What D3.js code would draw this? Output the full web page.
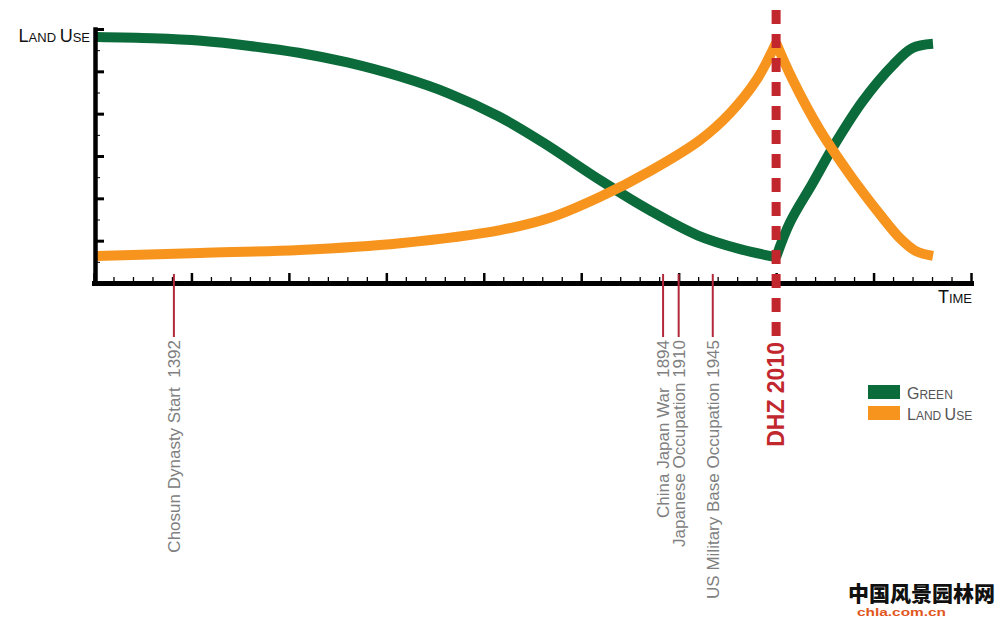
<!DOCTYPE html>
<html>
<head>
<meta charset="utf-8">
<script src="https://cdn.jsdelivr.net/npm/d3@7"></script>
<style>
  html, body { margin: 0; padding: 0; background: #fff; }
  svg { display: block; }
</style>
</head>
<body>
<svg id="chart" width="1000" height="617"></svg>
<script>
// Time axis (years) and tick marks
const timeDomain = [1310, 2210];
const majorYears = d3.range(1310, 2211, 100);
const minorYears = d3.range(1310, 2211, 20).filter(y => (y - 1310) % 100 !== 0);

// Relative level axis
const levelDomain = [0, 6];
const majorLevels = [1, 2, 3, 4, 5, 6];
const minorLevels = [0.5, 1.5, 2.5, 3.5, 4.5, 5.5];

// Series: [year, level]
const greenSeries = [
  [1313, 5.81], [1370, 5.78], [1420, 5.72], [1470, 5.60], [1520, 5.44],
  [1570, 5.21], [1625, 4.87], [1675, 4.47], [1725, 3.94], [1770, 3.33],
  [1830, 2.42], [1880, 1.72], [1930, 1.12], [1973, 0.80], [2010, 0.61],
  [2024, 1.42], [2047, 2.34], [2071, 3.31], [2099, 4.30], [2130, 5.15],
  [2150, 5.55], [2171, 5.65]
];
const landUseSeries = [
  [1313, 0.64], [1419, 0.71], [1521, 0.78], [1624, 0.94], [1727, 1.25],
  [1778, 1.54], [1829, 2.03], [1881, 2.65], [1932, 3.38], [1963, 4.02],
  [1990, 4.80], [2010, 5.67],
  [2027, 4.80], [2055, 3.61], [2086, 2.55], [2117, 1.61], [2137, 1.06],
  [2153, 0.76], [2171, 0.64]
];

// Historical events marked under the time axis
const eventYears = [1392, 1894, 1910, 1945];
const eventLabels = [
  "Chosun Dynasty Start  1392",
  "China Japan War  1894",
  "Japanese Occupation 1910",
  "US Military Base Occupation 1945"
];

const dhzYear = 2010;
const dhzLabel = "DHZ 2010";

const yAxisTitle = "Land Use";
const xAxisTitle = "Time";
const legendLabels = ["Green", "Land Use"];
const siteName = "中国风景园林网";
const siteUrl = "chla.com.cn";

const FONT = "'Liberation Sans', Arial, Helvetica, sans-serif";
const GREEN = "#0b6b3a";
const ORANGE = "#f7941e";
const RED = "#c1272d";
const EVENT_RED = "#b3283a";

const svg = d3.select("#chart");

const x = d3.scaleLinear().domain(timeDomain).range([94, 971]);
const y = d3.scaleLinear().domain(levelDomain).range([283, 29]);

// Writes a label in small caps: first letter of each word large, rest small
function smallCaps(sel, str, big, small) {
  const words = str.split(" ");
  words.forEach((w, i) => {
    sel.append("tspan").attr("font-size", big).text(w[0].toUpperCase());
    const rest = w.slice(1).toUpperCase() + (i < words.length - 1 ? " " : "");
    if (rest) sel.append("tspan").attr("font-size", small).text(rest);
  });
}

// ---- series lines (split at the DHZ year so each peak stays sharp) ----
const line = d3.line()
  .x(d => x(d[0]))
  .y(d => y(d[1]))
  .curve(d3.curveCatmullRom.alpha(0.5));

function segments(series) {
  return [series.filter(d => d[0] <= dhzYear), series.filter(d => d[0] >= dhzYear)];
}

const seriesDefs = [
  { data: greenSeries, color: GREEN },
  { data: landUseSeries, color: ORANGE }
];

seriesDefs.forEach(s => {
  svg.append("g")
    .selectAll("path")
    .data(segments(s.data))
    .join("path")
    .attr("d", line)
    .attr("fill", "none")
    .attr("stroke", s.color)
    .attr("stroke-width", 10)
    .attr("stroke-linejoin", "round");
});

// ---- axes ----
const xMajor = svg.append("g")
  .attr("transform", `translate(0,${y(0)})`)
  .call(d3.axisBottom(x).tickValues(majorYears).tickSize(-10).tickSizeOuter(0).tickFormat(""));
xMajor.select(".domain").attr("stroke", "#000").attr("stroke-width", 5).attr("stroke-linecap", "square");
xMajor.selectAll(".tick line").attr("stroke", "#000").attr("stroke-width", 2.5);

const xMinor = svg.append("g")
  .attr("transform", `translate(0,${y(0)})`)
  .call(d3.axisBottom(x).tickValues(minorYears).tickSize(-6).tickFormat(""));
xMinor.select(".domain").remove();
xMinor.selectAll(".tick line").attr("stroke", "#000").attr("stroke-width", 1.3);

const yMajor = svg.append("g")
  .attr("transform", `translate(${x(timeDomain[0]) + 1},0)`)
  .call(d3.axisRight(y).tickValues(majorLevels).tickSize(9).tickSizeOuter(0).tickFormat(""));
yMajor.select(".domain").attr("stroke", "#000").attr("stroke-width", 4.5).attr("stroke-linecap", "square");
yMajor.selectAll(".tick line").attr("stroke", "#000").attr("stroke-width", 3);

const yMinor = svg.append("g")
  .attr("transform", `translate(${x(timeDomain[0]) + 1},0)`)
  .call(d3.axisRight(y).tickValues(minorLevels).tickSize(5).tickFormat(""));
yMinor.select(".domain").remove();
yMinor.selectAll(".tick line").attr("stroke", "#000").attr("stroke-width", 1);

// axis titles
smallCaps(
  svg.append("text").attr("x", 90).attr("y", 42).attr("text-anchor", "end")
    .attr("font-family", FONT).attr("fill", "#111"),
  yAxisTitle, 18, 13
);
smallCaps(
  svg.append("text").attr("x", 972).attr("y", 303).attr("text-anchor", "end")
    .attr("font-family", FONT).attr("fill", "#111"),
  xAxisTitle, 18, 13
);

// ---- event markers ----
const events = eventYears.map((yr, i) => ({ year: yr, label: eventLabels[i] }));
const ev = svg.append("g").selectAll("g").data(events).join("g");
ev.append("line")
  .attr("x1", d => x(d.year)).attr("x2", d => x(d.year))
  .attr("y1", 274).attr("y2", 337)
  .attr("stroke", EVENT_RED).attr("stroke-width", 2);
ev.append("text")
  .attr("transform", d => `translate(${x(d.year)},340) rotate(-90)`)
  .attr("text-anchor", "end")
  .attr("dy", "0.36em")
  .attr("font-family", FONT)
  .attr("font-size", 17)
  .attr("fill", "#808080")
  .attr("xml:space", "preserve")
  .style("white-space", "pre")
  .text(d => d.label);

// ---- DHZ marker ----
svg.append("line")
  .attr("x1", x(dhzYear)).attr("x2", x(dhzYear))
  .attr("y1", 10).attr("y2", 338)
  .attr("stroke", RED).attr("stroke-width", 9)
  .attr("stroke-dasharray", "14 10");
svg.append("text")
  .attr("transform", `translate(${x(dhzYear)},342) rotate(-90)`)
  .attr("text-anchor", "end")
  .attr("dy", "0.36em")
  .attr("font-family", FONT)
  .attr("font-weight", "bold")
  .attr("font-size", 23)
  .attr("fill", RED)
  .text(dhzLabel);

// ---- legend ----
const legend = svg.append("g").attr("transform", "translate(868,385)");
const legendColors = [GREEN, ORANGE];
legendLabels.forEach((lab, i) => {
  legend.append("rect")
    .attr("x", 0).attr("y", i * 21)
    .attr("width", 32).attr("height", 14)
    .attr("fill", legendColors[i]);
  smallCaps(
    legend.append("text").attr("x", 39).attr("y", i * 21 + 14)
      .attr("font-family", FONT).attr("fill", "#555"),
    lab, 16, 12
  );
});

// ---- site mark ----
svg.append("text")
  .attr("x", 848).attr("y", 601)
  .attr("font-family", "'Noto Sans CJK SC', sans-serif")
  .attr("font-weight", 900)
  .attr("font-size", 21)
  .attr("fill", "#111")
  .text(siteName);
svg.append("text")
  .attr("x", 857).attr("y", 616)
  .attr("font-family", FONT)
  .attr("font-weight", "bold")
  .attr("font-size", 10.5)
  .attr("fill", "#e2561d")
  .attr("textLength", 89)
  .attr("lengthAdjust", "spacingAndGlyphs")
  .text(siteUrl);
</script>
</body>
</html>
